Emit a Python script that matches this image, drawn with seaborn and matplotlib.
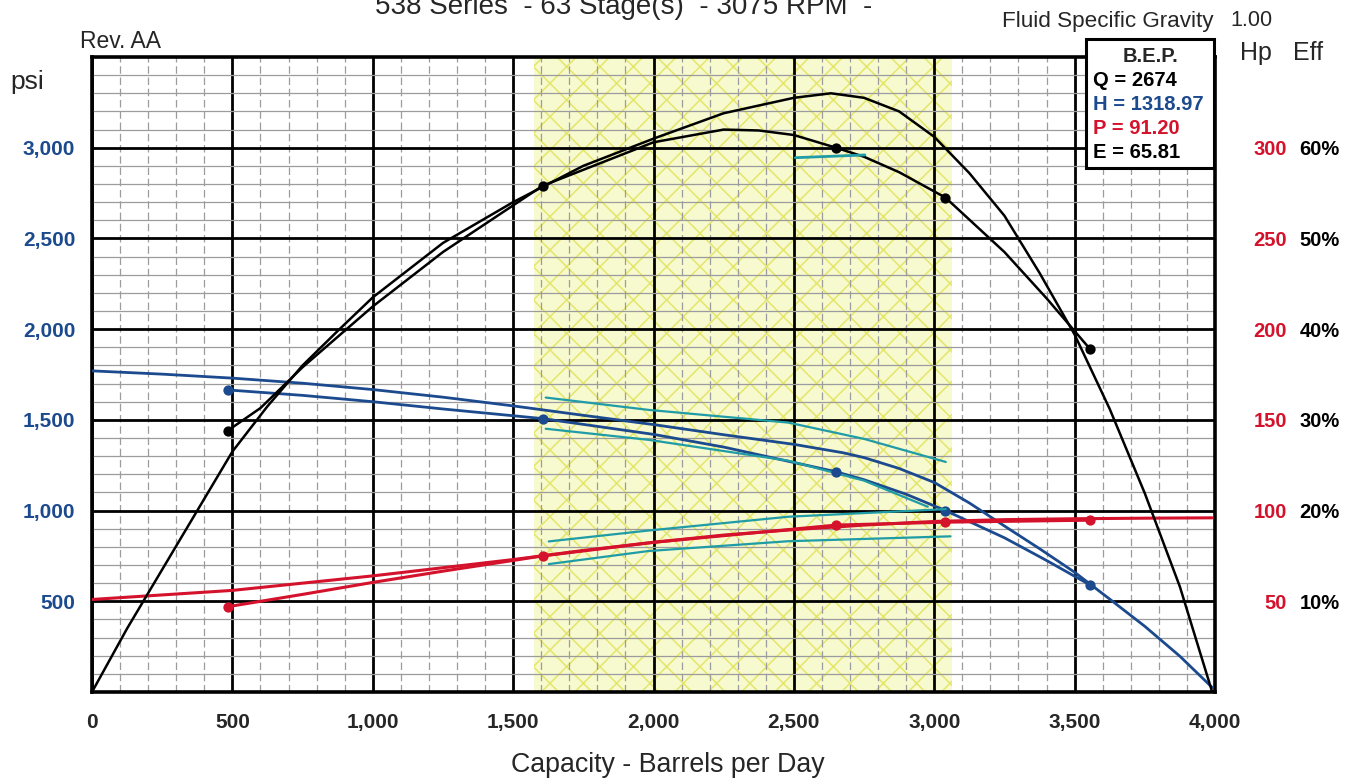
import matplotlib
matplotlib.use("Agg")
import matplotlib.pyplot as plt
from matplotlib.patches import Rectangle
from matplotlib.ticker import MultipleLocator
import seaborn as sns

# catalog curves (Q in bbl/day)
q_head_cat = [0, 250, 500, 750, 1000, 1250, 1500, 1750, 2000, 2250, 2500, 2674, 2750, 2875, 3000,
              3125, 3250, 3375, 3500, 3625, 3750, 3875, 3990]
head_cat = [1770, 1752, 1730, 1702, 1667, 1625, 1577, 1525, 1474, 1418, 1365, 1319, 1292, 1232, 1155,
            1042, 915, 790, 660, 512, 362, 197, 25]
q_hp_cat = [0, 250, 500, 750, 1000, 1250, 1500, 1750, 2000, 2250, 2500, 2674, 2750, 3000, 3250, 3500, 3750, 3990]
hp_cat = [51, 53.5, 56, 60, 64, 68.5, 73, 78, 82.5, 86.5, 89.5, 91.2, 92, 94, 95, 95.5, 95.8, 96]
q_eff_cat = [0, 125, 250, 375, 500, 625, 750, 875, 1000, 1250, 1500, 1750, 2000, 2250, 2500, 2632,
             2750, 2875, 3000, 3125, 3250, 3375, 3500, 3625, 3750, 3875, 3990]
eff_cat = [0, 7, 13.5, 20, 26.5, 31.5, 36, 39.8, 43.5, 49.5, 54, 58, 61, 63.8, 65.5, 66,
           65.5, 64, 61.2, 57.2, 52.5, 46.2, 39.4, 31.2, 21.9, 11.6, 0]

# test curves
q_head_test = [483, 750, 1000, 1250, 1605, 2000, 2250, 2500, 2650, 2750, 2900, 3040, 3250, 3400, 3555]
head_test = [1665, 1635, 1600, 1560, 1507, 1420, 1350, 1265, 1214, 1170, 1090, 1000, 850, 725, 590]
q_eff_test = [483, 600, 750, 1000, 1250, 1605, 2000, 2250, 2375, 2500, 2650, 2750, 2875, 3040, 3250, 3400, 3555]
eff_test = [28.8, 31.3, 35.8, 42.5, 48.5, 55.8, 60.6, 62, 61.9, 61.4, 60, 59, 57.3, 54.5, 48.5, 43.4, 37.8]
q_hp_test = [483, 750, 1000, 1250, 1605, 2000, 2650, 3040, 3555]
hp_test = [47, 53.8, 60.4, 66.6, 75, 82.5, 92, 93.6, 94.7]

# measured points
q_test = [483, 1605, 2650, 3040, 3555]
head_pts = [1665, 1507, 1214, 1000, 590]
hp_pts = [47, 75, 92, 93.6, 94.7]
eff_pts = [28.8, 55.8, 60, 54.5, 37.8]

# tolerance lines
q_head_hi = [1616, 1982, 2480, 2750, 3041]
head_hi = [1623, 1555, 1485, 1395, 1268]
q_head_lo = [1616, 1982, 2480, 2750, 2977]
head_lo = [1451, 1390, 1275, 1165, 1021]
q_hp_hi = [1627, 1982, 2480, 3041]
hp_hi = [83, 89, 96.6, 100.8]
q_hp_lo = [1627, 1982, 2480, 3058]
hp_lo = [70.5, 77.7, 83.1, 85.8]
q_eff_tol = [2505, 2753]
eff_tol = [58.9, 59.2]

range_q = [1575, 3065]

x_ticks = [0, 500, 1000, 1500, 2000, 2500, 3000, 3500, 4000]
x_labels = ["0", "500", "1,000", "1,500", "2,000", "2,500", "3,000", "3,500", "4,000"]
psi_ticks = [500, 1000, 1500, 2000, 2500, 3000]
psi_labels = ["500", "1,000", "1,500", "2,000", "2,500", "3,000"]
hp_ticks = [50, 100, 150, 200, 250, 300]
eff_ticks = [10, 20, 30, 40, 50, 60]
eff_labels = ["10%", "20%", "30%", "40%", "50%", "60%"]

sns.set_style("white")
plt.rcParams["font.family"] = ["Liberation Sans", "DejaVu Sans"]
plt.rcParams["hatch.linewidth"] = 1.1

navy = "#1c4a8e"
red = "#d5122c"
teal = "#1f9ca6"

W, H = 1363, 783
fig = plt.figure(figsize=(W / 100, H / 100), dpi=100)
ax = fig.add_axes([92 / W, 1 - 692 / H, 1123 / W, 635 / H])
ax_hp = ax.twinx()
ax_eff = ax.twinx()

ax.set_xlim(0, 4000)
ax.set_ylim(0, 3500)
ax_hp.set_ylim(0, 350)
ax_eff.set_ylim(0, 70)

# operating range
ax.axvspan(range_q[0], range_q[1], facecolor="#f7f9cf", edgecolor="#e4e66a",
           hatch="x", lw=0, zorder=0)

# grid
ax.xaxis.set_major_locator(MultipleLocator(500))
ax.xaxis.set_minor_locator(MultipleLocator(100))
ax.yaxis.set_major_locator(MultipleLocator(500))
ax.yaxis.set_minor_locator(MultipleLocator(100))
ax.grid(which="minor", axis="y", color="#9c9c9c", lw=0.9, zorder=0.4)
ax.grid(which="minor", axis="x", color="#9c9c9c", lw=0.9, ls=(0, (6, 3)), zorder=0.4)
ax.grid(which="major", color="black", lw=2.0, zorder=0.5)

ax.set_xticks(x_ticks, x_labels, fontweight="bold", fontsize=15)
ax.set_yticks(psi_ticks, psi_labels, fontweight="bold", fontsize=15, color=navy)
ax.tick_params(axis="x", which="major", direction="out", length=9, width=1,
               color="#8a8a8a", pad=6)
ax.tick_params(axis="x", which="minor", direction="out", length=6, width=1, color="#aaaaaa")
ax.tick_params(axis="y", which="both", length=0, pad=12)
for s in ax.spines.values():
    s.set_color("black")
    s.set_linewidth(2.6)

ax_hp.set_yticks(hp_ticks, [str(v) for v in hp_ticks], fontweight="bold", fontsize=14.5, color=red)
ax_hp.tick_params(axis="y", length=0, pad=52)
for t in ax_hp.get_yticklabels():
    t.set_horizontalalignment("right")
ax_eff.set_yticks(eff_ticks, eff_labels, fontweight="bold", fontsize=14.5, color="black")
ax_eff.tick_params(axis="y", length=0, pad=61)
for a in (ax_hp, ax_eff):
    for s in a.spines.values():
        s.set_visible(False)
    a.grid(False)

# head
sns.lineplot(x=q_head_cat, y=head_cat, ax=ax, color=navy, lw=2.0, sort=False, estimator=None, zorder=3)
sns.lineplot(x=q_head_test, y=head_test, ax=ax, color=navy, lw=2.0, sort=False, estimator=None, zorder=3)
sns.lineplot(x=q_head_hi, y=head_hi, ax=ax, color=teal, lw=1.6, sort=False, estimator=None, zorder=3)
sns.lineplot(x=q_head_lo, y=head_lo, ax=ax, color=teal, lw=1.6, sort=False, estimator=None, zorder=3)
sns.scatterplot(x=q_test, y=head_pts, ax=ax, color=navy, s=55, linewidth=0, zorder=4)

# power
sns.lineplot(x=q_hp_cat, y=hp_cat, ax=ax_hp, color=red, lw=2.2, sort=False, estimator=None)
sns.lineplot(x=q_hp_test, y=hp_test, ax=ax_hp, color=red, lw=2.2, sort=False, estimator=None)
sns.lineplot(x=q_hp_hi, y=hp_hi, ax=ax_hp, color=teal, lw=1.6, sort=False, estimator=None)
sns.lineplot(x=q_hp_lo, y=hp_lo, ax=ax_hp, color=teal, lw=1.6, sort=False, estimator=None)
sns.scatterplot(x=q_test, y=hp_pts, ax=ax_hp, color=red, s=55, linewidth=0)

# efficiency
sns.lineplot(x=q_eff_cat, y=eff_cat, ax=ax_eff, color="black", lw=1.8, sort=False, estimator=None)
sns.lineplot(x=q_eff_test, y=eff_test, ax=ax_eff, color="black", lw=1.8, sort=False, estimator=None)
sns.lineplot(x=q_eff_tol, y=eff_tol, ax=ax_eff, color=teal, lw=2.0, sort=False, estimator=None)
sns.scatterplot(x=q_test, y=eff_pts, ax=ax_eff, color="black", s=55, linewidth=0)

for a in (ax, ax_hp, ax_eff):
    a.set_xlabel("")
    a.set_ylabel("")

# B.E.P. box
fig.add_artist(Rectangle((1086 / W, 1 - 168 / H), 128 / W, 129 / H, transform=fig.transFigure,
                         facecolor="white", edgecolor="black", lw=2.2, zorder=5))
bep_lines = [("Q = 2674", "black"), ("H = 1318.97", navy), ("P = 91.20", red), ("E = 65.81", "black")]
fig.text(1150 / W, 1 - 56 / H, "B.E.P.", ha="center", va="center", fontsize=14.5,
         fontweight="bold", zorder=6)
for i, (txt, col) in enumerate(bep_lines):
    fig.text(1093 / W, 1 - (80 + 24 * i) / H, txt, ha="left", va="center", fontsize=14.5,
             fontweight="bold", color=col, zorder=6)

# other labels
fig.text(375 / W, 1 - 14 / H, "538 Series  - 63 Stage(s)  - 3075 RPM  -", fontsize=20,
         va="baseline", ha="left")
fig.text(80 / W, 1 - 42 / H, "Rev. AA", fontsize=16.5, va="center")
fig.text(10 / W, 1 - 82 / H, "psi", fontsize=19, va="center")
fig.text(1002 / W, 1 - 22 / H, "Fluid Specific Gravity", fontsize=16.2, va="center")
fig.text(1230 / W, 1 - 20 / H, "1.00", fontsize=15.5, va="center")
fig.text(1240 / W, 1 - 53 / H, "Hp", fontsize=18, va="center")
fig.text(1293 / W, 1 - 53 / H, "Eff", fontsize=18, va="center")
fig.text(668 / W, 1 - 765 / H, "Capacity - Barrels per Day", fontsize=19.3, ha="center", va="center")

fig.savefig("out.png", dpi=100)
